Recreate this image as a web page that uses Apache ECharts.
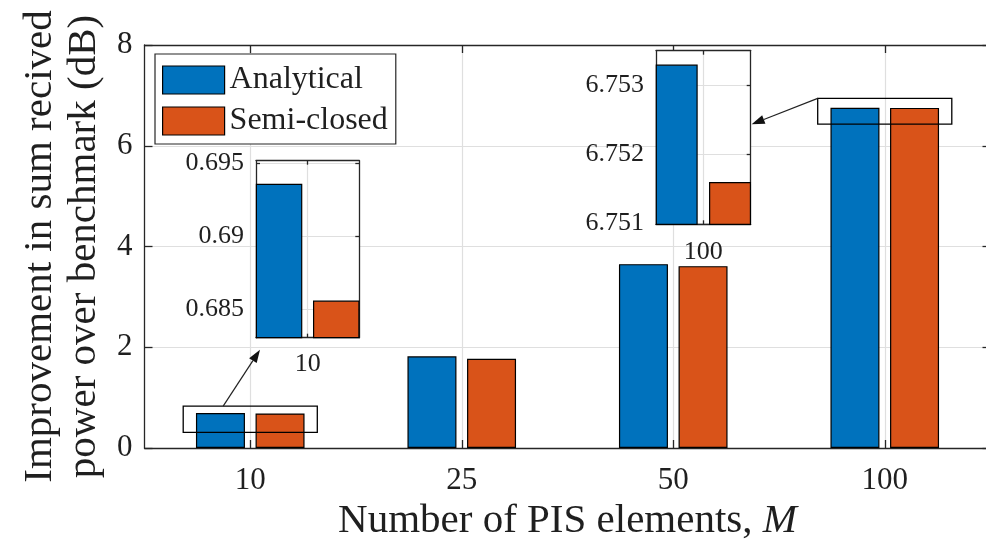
<!DOCTYPE html>
<html>
<head>
<meta charset="utf-8">
<script src="https://cdn.jsdelivr.net/npm/echarts@6.0.0/dist/echarts.min.js"></script>
<style>
  html, body { margin: 0; padding: 0; background: #ffffff; }
  #chart { width: 986px; height: 542px; }
</style>
</head>
<body>
<div id="chart"></div>
<script>
// Number of PIS elements (x categories)
const categories = ['10', '25', '50', '100'];
// Improvement in sum received power over benchmark (dB)
const analytical = [0.6936, 1.82, 3.65, 6.7533];
const semiClosed = [0.6856, 1.77, 3.61, 6.7516];
const seriesNames = ['Analytical', 'Semi-closed'];

// Main y axis ticks
const yTicks = [0, 2, 4, 6, 8];
// Magnified views of the M = 10 and M = 100 groups
const inset10Ticks = [0.685, 0.69, 0.695];
const inset10Range = [0.68306, 0.69518];
const inset100Ticks = [6.751, 6.752, 6.753];
const inset100Range = [6.75099, 6.7535];
// Regions marked on the main axes: [category index, lower, upper]
const zoomBoxes = [[0, 0.31, 0.83], [3, 6.43, 6.94]];

const SERIF = '"Liberation Serif", "DejaVu Serif", serif';
const INK = '#1f1f1f';
const AXIS = '#262626';
const GRID = '#dfdfdf';
const BLUE = '#0072BD';
const ORANGE = '#D95319';

// Layout of the three axes boxes (pixels)
const mainBox = { left: 144.5, top: 45, width: 846, height: 403 };
const inset10Box = { left: 256, top: 160.7, width: 103.3, height: 177 };
const inset100Box = { left: 656, top: 50.7, width: 94.7, height: 173.6 };

const chart = echarts.init(document.getElementById('chart'), null, { renderer: 'canvas' });

function catAxes(gridIndex, data, z, withLabel, labelSize, labelMargin, tickLen) {
  return [
    {
      type: 'category', gridIndex: gridIndex, data: data, position: 'bottom', z: z,
      axisLine: { show: true, onZero: false, lineStyle: { color: AXIS, width: 1.3 } },
      axisTick: { show: true, inside: true, alignWithLabel: true, length: tickLen, lineStyle: { color: AXIS, width: 1.3 } },
      axisLabel: { show: withLabel, margin: labelMargin, fontFamily: SERIF, fontSize: labelSize, color: INK },
      splitLine: { show: true, alignWithLabel: true, lineStyle: { color: GRID, width: 1.2 } }
    },
    {
      type: 'category', gridIndex: gridIndex, data: data, position: 'top', z: z,
      axisLine: { show: true, onZero: false, lineStyle: { color: AXIS, width: 1.3 } },
      axisTick: { show: true, inside: true, alignWithLabel: true, length: tickLen, lineStyle: { color: AXIS, width: 1.3 } },
      axisLabel: { show: false },
      splitLine: { show: false }
    }
  ];
}

function valAxes(gridIndex, range, ticks, z, labelSize, labelMargin, tickLen) {
  const common = {
    type: 'value', gridIndex: gridIndex, min: range[0], max: range[1], z: z,
    axisLine: { show: true, onZero: false, lineStyle: { color: AXIS, width: 1.3 } }
  };
  return [
    Object.assign({}, common, {
      position: 'left',
      axisTick: { show: true, inside: true, length: tickLen, customValues: ticks, lineStyle: { color: AXIS, width: 1.3 } },
      axisLabel: { show: true, margin: labelMargin, customValues: ticks, fontFamily: SERIF, fontSize: labelSize, color: INK },
      splitLine: { show: true, lineStyle: { color: GRID, width: 1.2 } }
    }),
    Object.assign({}, common, {
      position: 'right',
      axisTick: { show: true, inside: true, length: tickLen, customValues: ticks, lineStyle: { color: AXIS, width: 1.3 } },
      axisLabel: { show: false, customValues: ticks },
      splitLine: { show: false }
    })
  ];
}

function barPair(xi, yi, a, b, width, gap, z) {
  return [
    { name: seriesNames[0], type: 'bar', xAxisIndex: xi, yAxisIndex: yi, data: a, barWidth: width, barGap: gap,
      z: z, clip: true, itemStyle: { color: BLUE, borderColor: '#000', borderWidth: 1.2 } },
    { name: seriesNames[1], type: 'bar', xAxisIndex: xi, yAxisIndex: yi, data: b, barWidth: width, barGap: gap,
      z: z, clip: true, itemStyle: { color: ORANGE, borderColor: '#000', borderWidth: 1.2 } }
  ];
}

const xAxes = []
  .concat(catAxes(0, categories, 0, true, 31, 17, 8))
  .concat(catAxes(1, [categories[0]], 6, true, 26, 13, 4))
  .concat(catAxes(2, [categories[3]], 6, true, 26, 15, 4));
const yAxes = []
  .concat(valAxes(0, [yTicks[0], yTicks[yTicks.length - 1]], yTicks, 0, 31, 12, 8))
  .concat(valAxes(1, inset10Range, inset10Ticks, 6, 26, 12, 4))
  .concat(valAxes(2, inset100Range, inset100Ticks, 6, 26, 12, 4));

// Axis titles on the main axes
Object.assign(xAxes[0], {
  name: 'Number of PIS elements, {i|M}',
  nameLocation: 'middle', nameGap: 52,
  nameTextStyle: { fontFamily: SERIF, fontSize: 41, color: INK, rich: { i: { fontFamily: SERIF, fontSize: 41, fontStyle: 'italic', color: INK } } }
});
Object.assign(yAxes[0], {
  name: 'Improvement in sum recived\npower over benchmark (dB)',
  nameLocation: 'middle', nameRotate: 90, nameGap: 36,
  nameTextStyle: { fontFamily: SERIF, fontSize: 41, lineHeight: 44, color: INK, align: 'center' }
});

const fixedGrid = { containLabel: false, outerBoundsMode: 'none' };

const option = {
  animation: false,
  backgroundColor: '#ffffff',
  grid: [
    Object.assign({ show: false, z: 0 }, fixedGrid, mainBox),
    Object.assign({ show: true, backgroundColor: '#ffffff', borderWidth: 0, z: 5 }, fixedGrid, inset10Box),
    Object.assign({ show: true, backgroundColor: '#ffffff', borderWidth: 0, z: 5 }, fixedGrid, inset100Box)
  ],
  legend: {
    orient: 'vertical', left: 155, top: 54,
    padding: [10, 8, 7, 7], itemGap: 9, itemWidth: 62, itemHeight: 28,
    backgroundColor: '#ffffff', borderColor: AXIS, borderWidth: 1.2,
    icon: 'rect', selectedMode: false, z: 10,
    itemStyle: { borderColor: '#000', borderWidth: 1.2 },
    textStyle: { fontFamily: SERIF, fontSize: 32, lineHeight: 28, color: INK },
    data: seriesNames
  },
  xAxis: xAxes,
  yAxis: yAxes,
  series: []
    .concat(barPair(0, 0, analytical, semiClosed, 49, '21.6%', 2))
    .concat(barPair(2, 2, [analytical[0]], [semiClosed[0]], 46.5, '23%', 7))
    .concat(barPair(4, 4, [analytical[3]], [semiClosed[3]], 42, '27%', 7))
    .concat([{
      type: 'custom', xAxisIndex: 0, yAxisIndex: 0, z: 3, silent: true,
      data: zoomBoxes,
      encode: { x: 0, y: [1, 2] },
      renderItem: function (params, api) {
        const c = api.value(0);
        const lo = api.coord([c, api.value(1)]);
        const hi = api.coord([c, api.value(2)]);
        const half = api.size([1, 0])[0] * 0.317;
        return {
          type: 'rect',
          shape: { x: lo[0] - half, y: hi[1], width: 2 * half, height: lo[1] - hi[1] },
          style: { fill: 'none', stroke: '#000', lineWidth: 1.3 }
        };
      }
    }])
};

chart.setOption(option);

// Arrows leading from each marked region to its magnified view
function arrow(from, to) {
  const dx = to[0] - from[0], dy = to[1] - from[1];
  const len = Math.sqrt(dx * dx + dy * dy);
  const ux = dx / len, uy = dy / len;
  const L = 13, W = 4.5;
  const bx = to[0] - ux * L, by = to[1] - uy * L;
  return [
    { type: 'line', z: 20, shape: { x1: from[0], y1: from[1], x2: bx, y2: by }, style: { stroke: '#222', lineWidth: 1.2 } },
    { type: 'polygon', z: 20, shape: { points: [to, [bx - uy * W, by + ux * W], [bx + uy * W, by - ux * W]] }, style: { fill: '#111' } }
  ];
}

const finder = { xAxisIndex: 0, yAxisIndex: 0 };
const c0 = chart.convertToPixel(finder, [0, zoomBoxes[0][2]]);
const c1 = chart.convertToPixel(finder, [1, zoomBoxes[0][2]]);
const band = c1[0] - c0[0];
const start1 = [c0[0] - 0.128 * band, c0[1]];
const end1 = [inset10Box.left + 4, inset10Box.top + inset10Box.height + 12];
const c3 = chart.convertToPixel(finder, [3, zoomBoxes[1][2]]);
const start2 = [c3[0] - 0.317 * band, c3[1]];
const end2 = [inset100Box.left + inset100Box.width + 1, inset100Box.top + 73.6];

chart.setOption({ graphic: arrow(start1, end1).concat(arrow(start2, end2)) });
</script>
</body>
</html>
